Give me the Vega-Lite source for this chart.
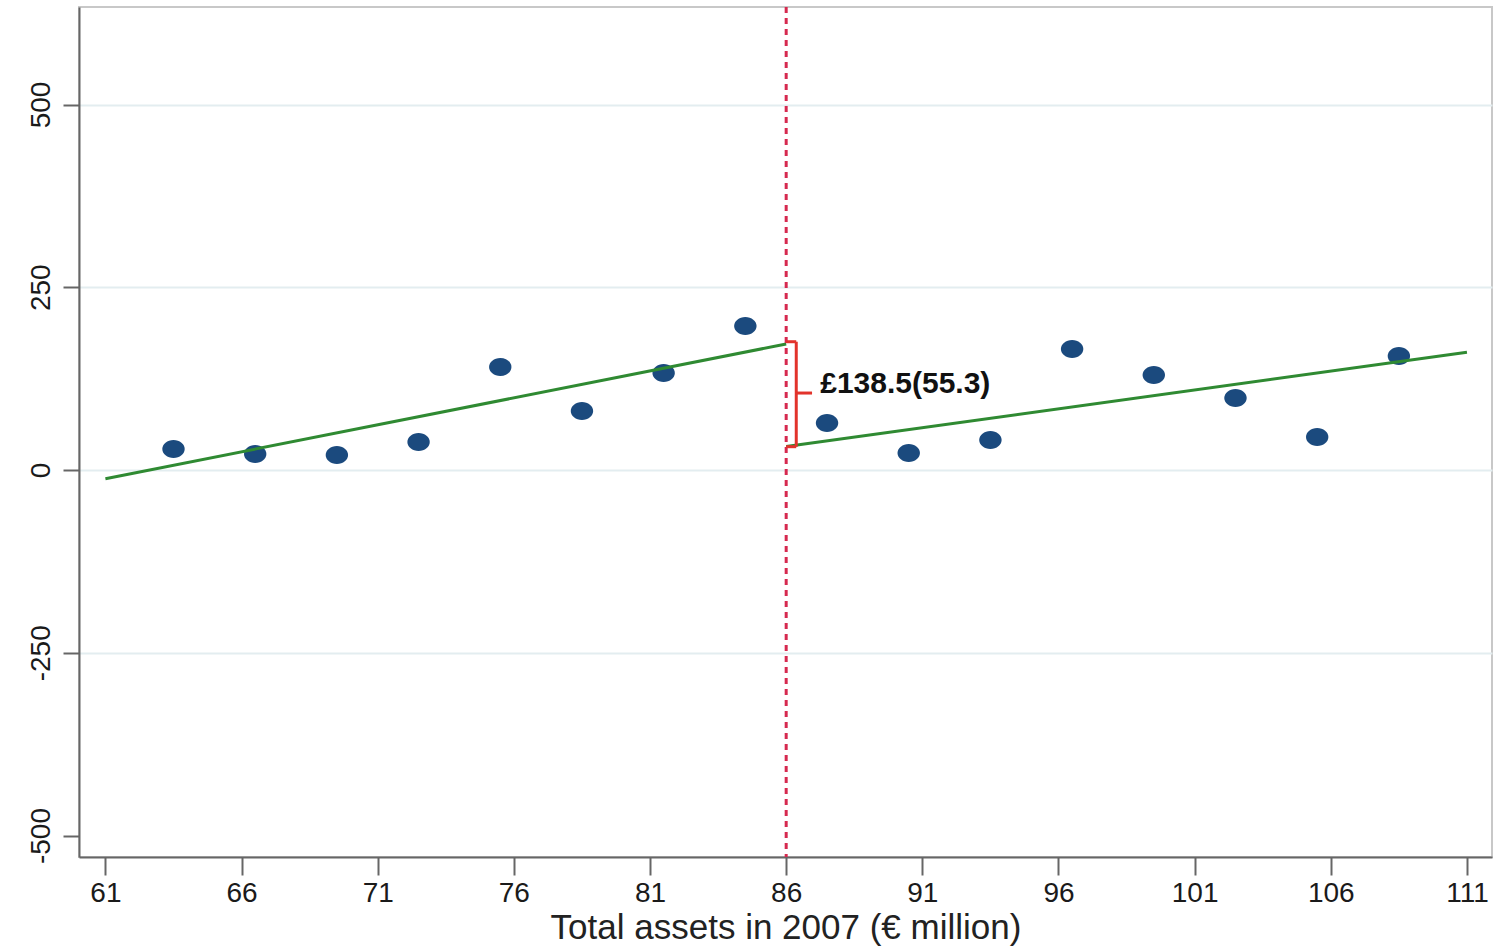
{
  "$schema": "https://vega.github.io/schema/vega-lite/v6.json",
  "width": 1413,
  "height": 850,
  "autosize": {"type": "none"},
  "padding": {"left": 79, "top": 7, "right": 5, "bottom": 89},
  "background": "white",
  "config": {
    "view": {"stroke": "#c8c8c8", "strokeWidth": 2},
    "font": "Liberation Sans"
  },
  "datasets": {
    "points": [
      {"x": 63.5, "y": 28.7},
      {"x": 66.5, "y": 21.9},
      {"x": 69.5, "y": 20.5},
      {"x": 72.5, "y": 38.3},
      {"x": 75.5, "y": 140.9},
      {"x": 78.5, "y": 80.7},
      {"x": 81.5, "y": 132.7},
      {"x": 84.5, "y": 197.0},
      {"x": 87.5, "y": 64.3},
      {"x": 90.5, "y": 23.3},
      {"x": 93.5, "y": 41.0},
      {"x": 96.5, "y": 165.5},
      {"x": 99.5, "y": 130.0},
      {"x": 102.5, "y": 98.5},
      {"x": 105.5, "y": 45.1},
      {"x": 108.5, "y": 156.0}
    ],
    "fit": [
      {"side": "left", "x": 61, "y": -11.9},
      {"side": "left", "x": 86, "y": 172.4},
      {"side": "right", "x": 86, "y": 32.1},
      {"side": "right", "x": 111, "y": 161.0}
    ],
    "bracket": [
      {"x": 86.37, "x2": 86.37, "y": 31.9, "y2": 175.5},
      {"x": 86.0, "x2": 86.37, "y": 175.5, "y2": 175.5},
      {"x": 86.0, "x2": 86.37, "y": 31.9, "y2": 31.9},
      {"x": 86.37, "x2": 86.95, "y": 105.3, "y2": 105.3}
    ],
    "cutoff": [{"x": 86}],
    "label": [{"x": 87.25, "y": 117.6, "text": "£138.5(55.3)"}]
  },
  "layer": [
    {
      "data": {"name": "points"},
      "mark": {
        "type": "point",
        "shape": "M-1.15,0A1.15,0.92,0,1,0,1.15,0A1.15,0.92,0,1,0,-1.15,0Z",
        "size": 380,
        "filled": true,
        "opacity": 1,
        "color": "#1b4a7e"
      },
      "encoding": {
        "x": {
          "field": "x",
          "type": "quantitative",
          "scale": {"domain": [60.03, 111.92], "nice": false, "zero": false},
          "axis": {
            "values": [61, 66, 71, 76, 81, 86, 91, 96, 101, 106, 111],
            "title": "Total assets in 2007 (€ million)",
            "titleFont": "Liberation Sans",
            "titleFontSize": 35,
            "titleFontWeight": "normal",
            "titleColor": "#222222",
            "titlePadding": 3,
            "grid": false,
            "domainColor": "#666666",
            "domainWidth": 2,
            "tickColor": "#666666",
            "tickWidth": 2,
            "tickSize": 18,
            "labelFont": "Liberation Sans",
            "labelFontSize": 28,
            "labelColor": "#1a1a1a",
            "labelPadding": 4,
            "labelFlush": false,
            "labelOverlap": false
          }
        },
        "y": {
          "field": "y",
          "type": "quantitative",
          "scale": {"domain": [-529.4, 633.4], "nice": false, "zero": false},
          "axis": {
            "values": [-500, -250, 0, 250, 500],
            "labelExpr": "toString(datum.value)",
            "title": null,
            "grid": true,
            "gridColor": {"condition": {"test": "datum.value === -500", "value": "transparent"}, "value": "#e3edf0"},
            "gridWidth": 2,
            "domainColor": "#666666",
            "domainWidth": 2,
            "tickColor": "#666666",
            "tickWidth": 2,
            "tickSize": 16,
            "labelAngle": -90,
            "labelAlign": "center",
            "labelBaseline": "bottom",
            "labelFont": "Liberation Sans",
            "labelFontSize": 28,
            "labelColor": "#1a1a1a",
            "labelPadding": 8,
            "labelFlush": false,
            "labelOverlap": false
          }
        }
      }
    },
    {
      "data": {"name": "fit"},
      "mark": {"type": "line", "color": "#2f8a32", "strokeWidth": 3},
      "encoding": {
        "x": {"field": "x", "type": "quantitative", "scale": {"domain": [60.03, 111.92], "nice": false, "zero": false}},
        "y": {"field": "y", "type": "quantitative", "scale": {"domain": [-529.4, 633.4], "nice": false, "zero": false}},
        "detail": {"field": "side"}
      }
    },
    {
      "data": {"name": "cutoff"},
      "mark": {"type": "rule", "color": "#d6294f", "strokeWidth": 3, "strokeDash": [6, 5]},
      "encoding": {
        "x": {"field": "x", "type": "quantitative", "scale": {"domain": [60.03, 111.92], "nice": false, "zero": false}}
      }
    },
    {
      "data": {"name": "bracket"},
      "mark": {"type": "rule", "color": "#e2332b", "strokeWidth": 3},
      "encoding": {
        "x": {"field": "x", "type": "quantitative", "scale": {"domain": [60.03, 111.92], "nice": false, "zero": false}},
        "x2": {"field": "x2"},
        "y": {"field": "y", "type": "quantitative", "scale": {"domain": [-529.4, 633.4], "nice": false, "zero": false}},
        "y2": {"field": "y2"}
      }
    },
    {
      "data": {"name": "label"},
      "mark": {"type": "text", "align": "left", "baseline": "middle", "font": "Liberation Sans", "fontWeight": "bold", "fontSize": 30, "color": "#111111"},
      "encoding": {
        "x": {"field": "x", "type": "quantitative", "scale": {"domain": [60.03, 111.92], "nice": false, "zero": false}},
        "y": {"field": "y", "type": "quantitative", "scale": {"domain": [-529.4, 633.4], "nice": false, "zero": false}},
        "text": {"field": "text"}
      }
    }
  ]
}
